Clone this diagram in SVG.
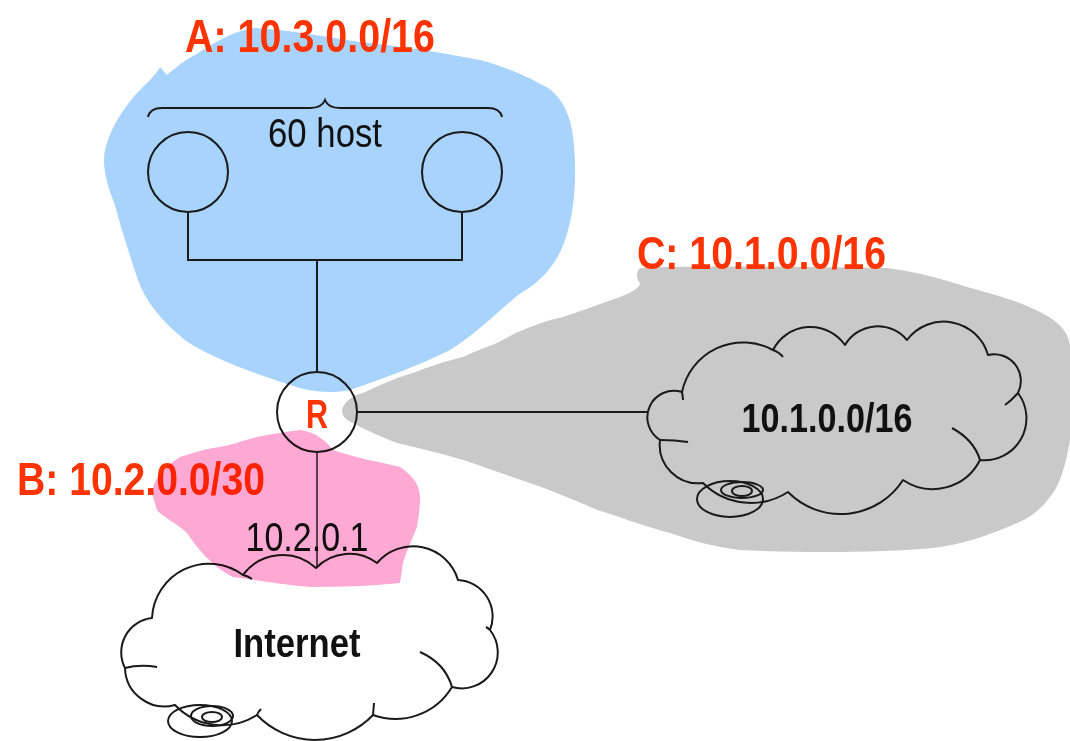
<svg xmlns="http://www.w3.org/2000/svg" width="1070" height="741" viewBox="0 0 1070 741">
<style>
.ln{fill:none;stroke:#1a1a1a;stroke-width:2}
.cl{fill:none;stroke:#1a1a1a;stroke-width:2;stroke-linejoin:round}
.lab{font-family:"Liberation Sans",Arial,sans-serif;font-weight:bold;font-size:47px;fill:#ff3300}
.t{font-family:"Liberation Sans",Arial,sans-serif;font-size:41px;fill:#111}
.tb{font-family:"Liberation Sans",Arial,sans-serif;font-size:41px;font-weight:bold;fill:#111}
</style>
<rect width="1070" height="741" fill="#ffffff"/>
<g id="areas">
<path id="areaA" fill="#a7d3fc" d="M160,67 L167,75 C175,68 185,60 195,55 C215,42 235,30 255,28 C290,30 320,36 360,42 C400,46 440,52 480,60 C510,68 530,78 548,88 C565,100 572,120 574,145 C577,180 574,215 565,240 C555,270 535,285 518,295 C500,310 475,335 450,350 C420,365 385,378 350,390 C330,394 310,392 290,385 C250,372 205,355 185,340 C160,320 145,300 138,280 C128,250 120,225 115,205 C105,180 100,160 108,140 C115,120 130,100 140,90 C148,82 155,76 160,67 Z"/>
<path id="areaC" fill="#c9c9c9" d="M343,407 C348,398 355,395 363,393 C380,385 395,378 413,373 C430,366 450,360 463,357 C478,350 490,346 497,343 C510,336 515,333 523,330 C540,323 550,320 563,317 C590,308 605,302 620,297 C632,292 640,288 640,283 C636,278 636,272 640,268 C700,265 800,267 887,268 C920,272 945,280 967,287 C1000,296 1020,302 1040,312 C1060,322 1068,332 1070,345 L1070,440 C1065,470 1058,488 1050,497 C1040,510 1030,518 1017,523 C990,535 960,545 933,548 C880,553 800,553 740,550 C710,546 690,540 670,533 C640,525 615,515 597,510 C575,500 550,490 530,483 C505,475 485,467 463,460 C440,453 418,448 397,443 C380,436 365,430 353,423 C345,420 340,414 343,407 Z"/>
</g>
<g id="connectors">
<path class="ln" d="M188,213 V260 H462 V213"/>
<path class="ln" d="M317,260 V372"/>
<path class="ln" d="M357,412 H647"/>
<path class="ln" style="stroke:#5a5a5a" d="M317,452 V568"/>
</g>
<g id="hosts">
<path class="ln" stroke-width="1.6" d="M148,117 Q150,108 162,108 L310,108 Q322,108 325,100 Q328,108 340,108 L488,108 Q500,108 502,117"/>
<text class="t" x="325" y="147" text-anchor="middle" textLength="114" lengthAdjust="spacingAndGlyphs">60 host</text>
</g>
<g id="hostLeft"><circle class="ln" cx="188" cy="172" r="40"/></g>
<g id="hostRight"><circle class="ln" cx="462" cy="172" r="40"/></g>
<g id="router">
<circle class="ln" cx="317" cy="412" r="40"/>
<text x="317" y="428" text-anchor="middle" font-family="Liberation Sans, Arial, sans-serif" font-size="40" font-weight="bold" fill="#ff3300" textLength="22" lengthAdjust="spacingAndGlyphs">R</text>
</g>
<g id="cloudC">
<path class="cl" d="M660,440 A26.6,26.6 0 0 1 682,392 A62.5,62.5 0 0 1 773,350 A42,42 0 0 1 845,345 A38,38 0 0 1 907,340 A46,46 0 0 1 988,355 A26.7,26.7 0 0 1 1018,393 A42,42 0 0 1 980,460 A53,53 0 0 1 903,480 A74,74 0 0 1 788,492 A68,68 0 0 1 703,483 A38.5,38.5 0 0 1 660,440"/>
<path class="cl" d="M660,440 Q675,440 688,442 M773,350 Q779,352 783,357 M1018,393 Q1012,400 1005,405 M952,428 Q974,440 980,460 M682,392 Q683,398 683,400"/>
<ellipse class="cl" stroke-width="1.6" cx="730" cy="499" rx="33" ry="18"/>
<ellipse class="cl" stroke-width="1.6" cx="742" cy="490" rx="21" ry="8"/>
<ellipse class="cl" stroke-width="1.6" cx="742" cy="491" rx="10" ry="5"/>
<text class="tb" x="827" y="432" text-anchor="middle" textLength="171" lengthAdjust="spacingAndGlyphs">10.1.0.0/16</text>
</g>
<g id="internet">
<path class="cl" style="fill:#fff" d="M152,618 A57,57 0 0 1 243,575 A49.5,49.5 0 0 1 316,568 A46,46 0 0 1 377,563 A47,47 0 0 1 458,580 A36.5,36.5 0 0 1 490,630 A36,36 0 0 1 452,687 A66,66 0 0 1 373,715 A80,80 0 0 1 257,715 A65,65 0 0 1 175,705 A39.5,39.5 0 0 1 125,668 A34.5,34.5 0 0 1 152,618 Z"/>
<path class="cl" d="M125,668 Q140,664 157,667 M420,652 Q445,663 452,687 M373,715 L374,703 M257,715 Q258,712 261,709 M243,575 Q248,576 252,579 M490,630 Q488,628 486,627"/>
<ellipse class="cl" stroke-width="1.6" cx="200" cy="721" rx="32" ry="16"/>
<ellipse class="cl" stroke-width="1.6" cx="212" cy="716" rx="21" ry="10"/>
<ellipse class="cl" stroke-width="1.6" cx="212" cy="717" rx="10" ry="5"/>
<text class="tb" x="297" y="657" text-anchor="middle" textLength="127" lengthAdjust="spacingAndGlyphs">Internet</text>
</g>
<g id="linkLabel">
<text class="t" x="307" y="551" text-anchor="middle" textLength="123" lengthAdjust="spacingAndGlyphs">10.2.0.1</text>
</g>
<g id="areaLabels">
<text id="labelA" class="lab" x="185" y="52" textLength="250" lengthAdjust="spacingAndGlyphs">A: 10.3.0.0/16</text>
<text id="labelC" class="lab" x="637" y="269" textLength="249" lengthAdjust="spacingAndGlyphs">C: 10.1.0.0/16</text>
<text id="labelB" class="lab" x="17" y="495" textLength="248" lengthAdjust="spacingAndGlyphs">B: 10.2.0.0/30</text>
</g>
<path id="areaB" fill="#fda9d3" style="mix-blend-mode:multiply" d="M153,497 C150,485 160,470 180,457 C195,452 210,448 220,447 C232,445 245,440 253,438 C270,434 285,432 300,430 C315,432 325,440 333,450 C355,458 380,462 400,467 C412,475 420,485 420,497 C420,510 418,520 417,527 C412,540 406,552 403,563 C402,570 401,577 400,583 C370,586 340,587 310,587 C280,584 255,580 233,577 C220,570 205,560 187,533 C175,522 160,515 157,510 Z"/>
</svg>
